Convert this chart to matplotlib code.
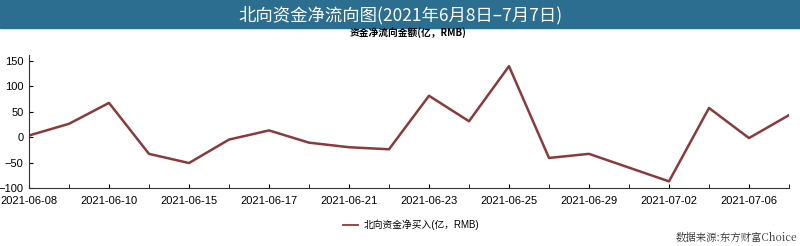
import matplotlib.pyplot as plt
from matplotlib.patches import Rectangle
from matplotlib.lines import Line2D

plt.rcParams['font.family'] = ['Liberation Sans', 'Noto Sans CJK SC', 'DejaVu Sans']

dates = ["2021-06-08", "2021-06-09", "2021-06-10", "2021-06-11", "2021-06-15",
         "2021-06-16", "2021-06-17", "2021-06-18", "2021-06-21", "2021-06-22",
         "2021-06-23", "2021-06-24", "2021-06-25", "2021-06-28", "2021-06-29",
         "2021-06-30", "2021-07-02", "2021-07-05", "2021-07-06", "2021-07-07"]
net_flow = [3, 26, 67, -33, -51, -5, 13, -11, -20, -24,
            81, 31, 139, -41, -33, -60, -87, 57, -2, 43]
yticks = [-100, -50, 0, 50, 100, 150]

fig = plt.figure(figsize=(8, 2.46), dpi=100)

# title band
fig.patches.append(Rectangle((0, 1 - 28 / 246), 1, 28 / 246, transform=fig.transFigure,
                             color="#2c6e90", zorder=0))
fig.text(0.5, 1 - 15 / 246, "北向资金净流向图(2021年6月8日–7月7日)", color="white",
         fontsize=12.5, ha="center", va="center",
         family=["Noto Sans CJK SC", "DejaVu Sans"])
fig.text(0.51, 1 - 33 / 246, "资金净流向金额(亿，RMB)", fontsize=7, ha="center",
         va="center", fontweight="bold", family=["Noto Sans CJK SC", "DejaVu Sans"])

ax = fig.add_axes([29 / 800, 1 - 188 / 246, (789 - 29) / 800, (188 - 55) / 246])
x = list(range(len(dates)))
ax.plot(x, net_flow, color="#8b3a3c", lw=1.8)

ax.set_xlim(0, len(dates) - 1)
ax.set_ylim(-100, 161)
ax.set_yticks(yticks)
ax.set_xticks(x[::2])
ax.set_xticklabels(dates[::2])
ax.set_xticks(x, minor=True)
ax.tick_params(axis="x", which="both", direction="in", length=3, labelsize=8, pad=6)
ax.tick_params(axis="y", which="major", direction="in", length=3, labelsize=8, pad=4)
ax.spines["top"].set_visible(False)
ax.spines["right"].set_visible(False)
ax.spines["left"].set_color("#333333")
ax.spines["bottom"].set_color("#333333")

handle = Line2D([], [], color="#8b3a3c", lw=1.3)
fig.legend([handle], ["北向资金净买入(亿，RMB)"], loc="center", bbox_to_anchor=(0.514, 1 - 225 / 246),
           frameon=False, fontsize=7, handlelength=1.6, handletextpad=0.6,
           prop={"family": ["Liberation Sans", "Noto Sans CJK SC"], "size": 7})
fig.text(0.997, 1 - 238 / 246, "数据来源:东方财富Choice", fontsize=7.5, ha="right", va="center",
         family=["Noto Serif CJK SC", "Noto Sans CJK SC", "DejaVu Serif"], color="#333333")

fig.savefig("out.png", dpi=100, facecolor="white")
